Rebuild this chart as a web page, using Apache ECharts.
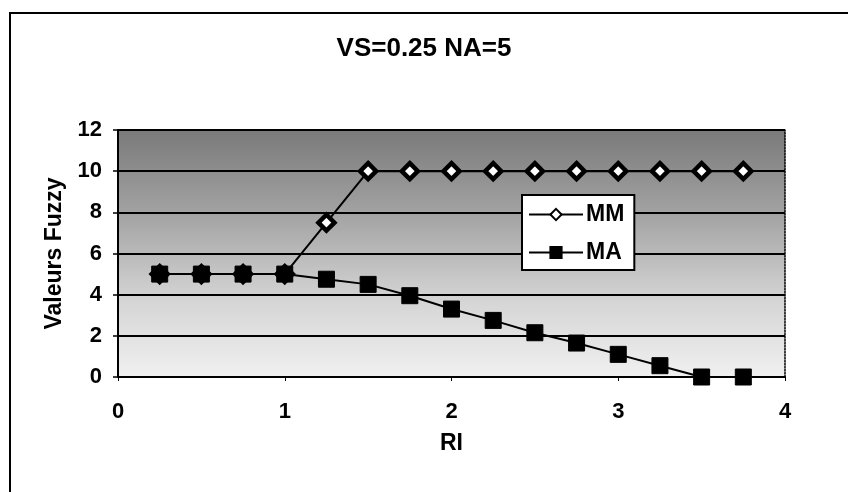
<!DOCTYPE html>
<html><head><meta charset="utf-8">
<script src="https://cdn.jsdelivr.net/npm/echarts@6/dist/echarts.min.js"></script>
<style>html,body{margin:0;padding:0;background:#fff}#c{width:848px;height:492px}</style>
</head><body><div id="c"></div>
<script>
const titleText = 'VS=0.25 NA=5';
const xName = 'RI';
const yName = 'Valeurs Fuzzy';
const riValues = [0.25, 0.5, 0.75, 1, 1.25, 1.5, 1.75, 2, 2.25, 2.5, 2.75, 3, 3.25, 3.5, 3.75];
const mmValues = [5, 5, 5, 5, 7.5, 10, 10, 10, 10, 10, 10, 10, 10, 10, 10];
const maValues = [5, 5, 5, 5, 4.75, 4.5, 3.95, 3.3, 2.75, 2.15, 1.65, 1.1, 0.55, 0, 0];
const seriesNames = ['MM', 'MA'];

const font = '"Liberation Sans", Arial, sans-serif';
const chart = echarts.init(document.getElementById('c'), null, {renderer: 'canvas'});
chart.setOption({
  animation: false,
  backgroundColor: '#fff',
  title: {
    text: titleText, left: 'center', top: 31,
    textStyle: {fontFamily: font, fontWeight: 'bold', fontSize: 26, color: '#000'}
  },
  graphic: [{
    type: 'rect', shape: {x: 10, y: 13, width: 900, height: 600},
    style: {fill: 'none', stroke: '#000', lineWidth: 2}, silent: true
  }],
  grid: {
    left: 118, right: 63, top: 130, bottom: 115, show: true, borderWidth: 0,
    backgroundColor: {type: 'linear', x: 0, y: 0, x2: 0, y2: 1, colorStops: [
      {offset: 0, color: '#7a7a7a'}, {offset: 0.35, color: '#a4a4a4'},
      {offset: 0.7, color: '#d6d6d6'}, {offset: 1, color: '#f0f0f0'}]}
  },
  legend: {
    orient: 'vertical', left: 522, top: 195,
    backgroundColor: '#fff', borderColor: '#000', borderWidth: 2,
    padding: [8, 10, 6, 6], itemGap: 15, itemWidth: 54, itemHeight: 14,
    data: seriesNames,
    textStyle: {fontFamily: font, fontWeight: 'bold', fontSize: 23, color: '#000', padding: [0, 0, 0, -2]}
  },
  xAxis: {
    type: 'value', min: 0, max: 4, interval: 1,
    name: xName, nameLocation: 'middle', nameGap: 55,
    nameTextStyle: {fontFamily: font, fontWeight: 'bold', fontSize: 23, color: '#000'},
    axisLine: {show: true, lineStyle: {color: '#000', width: 2}},
    axisTick: {show: true, inside: false, length: 4, lineStyle: {color: '#000'}},
    axisLabel: {fontFamily: font, fontWeight: 'bold', fontSize: 22, color: '#000', margin: 24},
    splitLine: {show: false}
  },
  yAxis: [{
    type: 'value', min: 0, max: 12, interval: 2,
    name: yName, nameLocation: 'middle', nameGap: 52, nameRotate: 90,
    nameTextStyle: {fontFamily: font, fontWeight: 'bold', fontSize: 23, color: '#000'},
    axisLine: {show: true, lineStyle: {color: '#000', width: 2}},
    axisTick: {show: true, length: 5, lineStyle: {color: '#000', width: 1.5}},
    axisLabel: {fontFamily: font, fontWeight: 'bold', fontSize: 22, color: '#000', margin: 16},
    splitLine: {show: true, lineStyle: {color: '#000', width: 2}}
  }, {
    type: 'value', min: 0, max: 12, interval: 2, position: 'right',
    axisLine: {show: true, lineStyle: {color: '#000', width: 1.5, type: 'dotted'}},
    axisTick: {show: false}, axisLabel: {show: false}, splitLine: {show: false}
  }],
  series: [{
    name: seriesNames[0], type: 'line', yAxisIndex: 0,
    data: riValues.map((x, i) => [x, mmValues[i]]),
    symbol: 'diamond', symbolSize: 16,
    lineStyle: {color: '#000', width: 2},
    itemStyle: {color: '#fff', borderColor: '#000', borderWidth: 4.5}
  }, {
    name: seriesNames[1], type: 'line', yAxisIndex: 0,
    data: riValues.map((x, i) => [x, maValues[i]]),
    symbol: 'rect', symbolSize: 16,
    lineStyle: {color: '#000', width: 2},
    itemStyle: {color: '#000', borderColor: '#000', borderWidth: 1}
  }]
});
</script></body></html>
